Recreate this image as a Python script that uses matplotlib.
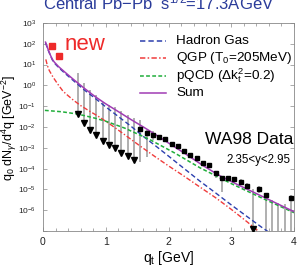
import numpy as np
import matplotlib
matplotlib.use("Agg")
import matplotlib.pyplot as plt
from matplotlib.lines import Line2D
from matplotlib.ticker import FixedLocator, MultipleLocator, FuncFormatter, NullLocator

plt.rcParams['font.family'] = ['Liberation Sans', 'DejaVu Sans']
plt.rcParams['mathtext.fontset'] = 'custom'
plt.rcParams['mathtext.rm'] = 'Liberation Sans'
plt.rcParams['mathtext.it'] = 'Liberation Sans:italic'
plt.rcParams['mathtext.sf'] = 'Liberation Sans'

# ---------------- data ----------------
hg_qt = [0.04, 0.08, 0.12, 0.15, 0.18, 0.25, 0.35, 0.48, 0.65, 0.83, 1.0, 1.2, 1.4,
         1.6, 1.8, 2.0, 2.25, 2.5, 2.75, 3.0, 3.25, 3.5, 3.62]
hg_val = [112, 52, 26, 16.6, 12, 7.2, 3.8, 1.74, 0.63, 0.24, 0.093, 0.032, 0.011,
          3.5e-3, 1.2e-3, 4.0e-4, 1.0e-4, 2.5e-5, 6.8e-6, 1.8e-6, 5.0e-7, 1.4e-7, 8e-8]

qgp_qt = [0.045, 0.07, 0.1, 0.16, 0.24, 0.32, 0.4, 0.48, 0.6, 0.75, 0.9, 1.1, 1.3,
          1.55, 1.8, 2.0, 2.25, 2.5, 2.75, 3.0, 3.25, 3.45]
qgp_val = [17.8, 8.9, 5.2, 2.5, 1.1, 0.52, 0.32, 0.2, 0.107, 0.056, 0.030, 0.0117,
           4.3e-3, 1.2e-3, 3.5e-4, 1.35e-4, 4.3e-5, 1.3e-5, 4.0e-6, 1.1e-6, 2.8e-7, 9e-8]

pqcd_qt = [0.03, 0.3, 0.55, 0.8, 1.0, 1.3, 1.7, 2.1, 2.5, 3.0, 3.5, 4.0]
pqcd_val = [0.063, 0.054, 0.042, 0.028, 0.019, 8.9e-3, 2.5e-3, 5.6e-4, 1.1e-4,
            1.9e-5, 3.7e-6, 7.6e-7]

sum_qt = [0.04, 0.08, 0.12, 0.15, 0.18, 0.25, 0.35, 0.48, 0.65, 0.83, 1.0, 1.2, 1.4,
          1.6, 1.8, 2.0, 2.25, 2.55, 2.82, 3.1, 3.4, 3.7, 4.0]
sum_val = [120, 55, 27.5, 17.8, 13.2, 7.9, 4.3, 2.0, 0.76, 0.29, 0.13, 0.055, 0.023,
           0.010, 4.2e-3, 1.7e-3, 5.6e-4, 1.4e-4, 4.5e-5, 1.7e-5, 6.3e-6, 2.3e-6, 8.5e-7]

# WA98 measured points
wa_qt = [1.55, 1.65, 1.75, 1.85, 1.95, 2.05, 2.15, 2.25, 2.35, 2.45, 2.55, 2.65,
         2.75, 2.85, 2.95, 3.05, 3.15, 3.25, 3.45, 3.55, 3.95]
wa_val = [7.8e-3, 4.9e-3, 4.2e-3, 3.4e-3, 2.6e-3, 1.5e-3, 1.2e-3, 7.4e-4, 4.5e-4,
          3.2e-4, 1.9e-4, 1.5e-4, 6.2e-5, 3.4e-5, 3.4e-5, 3.0e-5, 2.3e-5, 1.45e-5,
          1.0e-5, 5.1e-6, 3.7e-6]
wa_lo = [2.1e-4, 3.7e-4, 2.5e-3, 2.8e-3, 2.1e-3, 1.2e-3, 9.5e-4, 5.8e-4, 3.5e-4,
         2.5e-4, 1.4e-4, 1.1e-4, 3.5e-5, 7.8e-6, 2.4e-5, 2.1e-5, 1.6e-5, 1.0e-5,
         7e-6, 1e-8, 1e-8]
wa_hi = [0.022, 7.2e-3, 6.3e-3, 4.0e-3, 3.1e-3, 1.8e-3, 1.45e-3, 9.0e-4, 5.5e-4,
         4.0e-4, 2.4e-4, 1.9e-4, 7.5e-5, 4.5e-5, 4.5e-5, 4.0e-5, 3.0e-5, 2.0e-5,
         1.4e-5, 7e-6, 5.5e-6]

# WA98 upper limits
ul_qt = [0.55, 0.65, 0.75, 0.85, 0.95, 1.05, 1.15, 1.25, 1.35, 1.45, 3.35]
ul_val = [0.041, 0.016, 7.2e-3, 4.2e-3, 2.1e-3, 1.4e-3, 9.5e-4, 5.9e-4, 3.9e-4,
          2.5e-4, 1.25e-7]
ul_top = [3.8, 1.35, 0.60, 0.35, 0.16, 0.11, 0.087, 0.058, 0.037, 0.026, 1.05e-5]

# error bars only (point off scale)
eb_qt = [3.65, 3.75, 3.85]
eb_top = [3.2e-6, 2.2e-6, 2.0e-6]
eb_bot = [1e-8, 1e-8, 1e-8]

# new points
new_qt = [0.15, 0.26]
new_val = [77, 26]

legend_labels = ["Hadron Gas", "QGP (T$_0$=205MeV)",
                 "pQCD ($\\Delta$k$_\\mathrm{t}^\\mathrm{2}$=0.2)", "Sum"]

# ---------------- figure ----------------
W, H = 300, 271
fig = plt.figure(figsize=(W / 100, H / 100), dpi=100)
ax = fig.add_axes([43 / W, 1 - 231 / H, (294 - 43) / W, (231 - 23) / H])

blue = '#2b3fae'
red = '#f03c3c'
green = '#1fae3a'
purple = '#a03cb4'
errc = '#9a9a9a'

# error bars / upper limits
ax.vlines(ul_qt, ul_val, ul_top, color=errc, lw=1.1, zorder=2)
ax.vlines(wa_qt, wa_lo, wa_hi, color=errc, lw=1.1, zorder=2)
ax.vlines(eb_qt, eb_bot, eb_top, color=errc, lw=1.1, zorder=2)

# curves
ax.plot(hg_qt, hg_val, color=blue, lw=1.0, ls=(0, (3.5, 2)), zorder=3)
ax.plot(qgp_qt, qgp_val, color=red, lw=1.0, ls=(0, (3.5, 1.5, 1, 1.5)), zorder=3)
ax.plot(pqcd_qt, pqcd_val, color=green, lw=1.1, ls=(0, (2.5, 1.5)), zorder=3)
ax.plot(sum_qt, sum_val, color=purple, lw=1.1, zorder=3)

# markers
ax.plot(ul_qt, ul_val, ls='none', marker='v', ms=4.0, color='black', zorder=4)
ax.plot(wa_qt, wa_val, ls='none', marker='s', ms=3.5, color='black', zorder=4)
ax.plot(new_qt, new_val, ls='none', marker='s', ms=4.8, color='#ee2a2a', zorder=4)

ax.set_xlim(0, 4)
ax.set_ylim(1e-7, 1e3)
ax.set_yscale('log')

ax.xaxis.set_major_locator(MultipleLocator(1))
ax.xaxis.set_minor_locator(MultipleLocator(0.2))
ax.yaxis.set_major_locator(FixedLocator([10.0 ** k for k in range(-7, 4)]))
ax.yaxis.set_minor_locator(NullLocator())


def yfmt(v, pos):
    k = int(round(np.log10(v)))
    if k == -7:
        return ''
    return '$10^{%d}$' % k


ax.yaxis.set_major_formatter(FuncFormatter(yfmt))
ax.tick_params(which='both', direction='in', top=True, right=True,
               color='#888888', width=0.5)
ax.tick_params(which='major', length=3)
ax.tick_params(which='minor', length=2)
ax.tick_params(axis='x', labelsize=7.5, pad=4, labelcolor='#222222')
ax.tick_params(axis='y', labelsize=6, pad=5, labelcolor='#222222')
for s in ax.spines.values():
    s.set_color('#888888')
    s.set_linewidth(0.6)

ax.set_xlabel('q$_\\mathrm{t}$ [GeV]', fontsize=10, labelpad=2)
fig.text(9 / W, 1 - 128 / H, 'q$_0$ dN$_\\gamma$/d$^4$q [GeV$^{-2}$]',
         rotation=90, fontsize=9, ha='center', va='center')

# title (partly cut off at the top, as in the reference)
fig.text(43 / W, 1 - 9 / H, 'Central Pb\u2212Pb  s$^{1/2}$=17.3AGeV',
         color='#2a3b9a', fontsize=12, ha='left', va='baseline')

# texts
fig.text(65 / W, 1 - 44 / H, 'new', color='#ee2a2a', fontsize=16,
         ha='left', va='center')
fig.text(293 / W, 1 - 140 / H, 'WA98 Data', fontsize=12.5, ha='right', va='center')
fig.text(290 / W, 1 - 160 / H, '2.35<y<2.95', fontsize=8.3, ha='right', va='center')

# legend (manual)
styles = [(blue, (0, (3.5, 2))), (red, (0, (3.5, 1.5, 1, 1.5))),
          (green, (0, (2.5, 1.5))), (purple, '-')]
for i, (lab, (c, ls)) in enumerate(zip(legend_labels, styles)):
    yp = 1 - (41 + 17.4 * i) / H
    fig.add_artist(Line2D([140 / W, 166 / W], [yp, yp], color=c, ls=ls, lw=1.1))
    fig.text(176 / W, yp, lab, fontsize=9.7, ha='left', va='center')

fig.savefig('out.png', dpi=100)
